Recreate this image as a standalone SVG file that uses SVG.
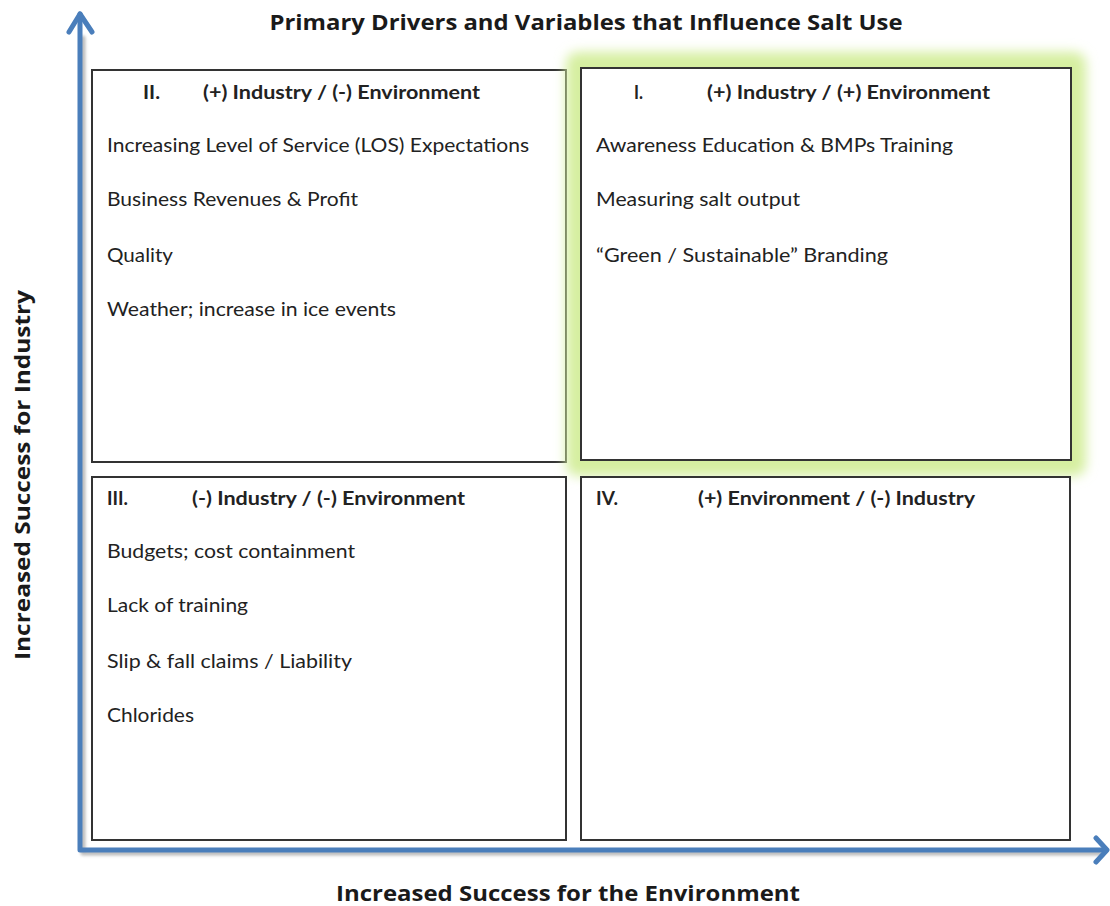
<svg xmlns="http://www.w3.org/2000/svg" width="1110" height="906" viewBox="0 0 1110 906">
<style>
.box{fill:#fff;stroke:#333;stroke-width:2}
.t{font-family:Lato,"Open Sans",sans-serif;font-size:19px;fill:#222}
.h{font-family:Lato,"Open Sans",sans-serif;font-size:19px;font-weight:bold;fill:#222}
.ax{font-family:"Open Sans",Lato,sans-serif;font-size:22px;font-weight:bold;fill:#1a1a1a}
.axis{fill:none;stroke:#4a7ebb;stroke-width:5;stroke-linecap:round;stroke-linejoin:round}
.shadow{fill:none;stroke:#bbb;stroke-width:5;stroke-linecap:round;stroke-linejoin:round}
</style>
<defs>
<filter id="glow" x="-10%" y="-10%" width="120%" height="120%">
<feGaussianBlur stdDeviation="6"/>
</filter>
<filter id="sh" x="-5%" y="-5%" width="110%" height="110%">
<feGaussianBlur stdDeviation="1.5"/>
</filter>
</defs>
<rect width="1110" height="906" fill="#fff"/>
<text class="ax" x="586" y="30" text-anchor="middle" textLength="633" lengthAdjust="spacingAndGlyphs">Primary Drivers and Variables that Influence Salt Use</text>
<g id="connectors">
<path class="shadow" filter="url(#sh)" d="M83 38 V853 H1100"/>
<path class="axis" d="M80 14 V850 H1106"/>
<path class="axis" d="M69 32 L80 14 L92 32"/>
<path class="axis" d="M1096 838 L1107 850 L1096 862"/>
</g>
<g id="quadrant-II">
<rect class="box" x="92" y="70" width="474" height="392"/>
<text class="h" x="143" y="99" textLength="17" lengthAdjust="spacingAndGlyphs">II.</text>
<text class="h" x="203" y="99" textLength="277" lengthAdjust="spacingAndGlyphs">(+) Industry / (-) Environment</text>
<text class="t" x="107" y="152" textLength="422" lengthAdjust="spacingAndGlyphs">Increasing Level of Service (LOS) Expectations</text>
<text class="t" x="107" y="206" textLength="251" lengthAdjust="spacingAndGlyphs">Business Revenues &amp; Profit</text>
<text class="t" x="107" y="262" textLength="66" lengthAdjust="spacingAndGlyphs">Quality</text>
<text class="t" x="107" y="316" textLength="289" lengthAdjust="spacingAndGlyphs">Weather; increase in ice events</text>
</g>
<g id="quadrant-I">
<rect x="566" y="52" width="520" height="424" rx="12" fill="#d6efa0" filter="url(#glow)"/>
<rect class="box" x="581" y="68" width="490" height="392"/>
<text class="h" x="634" y="99" textLength="9" lengthAdjust="spacingAndGlyphs">I.</text>
<text class="h" x="707" y="99" textLength="283" lengthAdjust="spacingAndGlyphs">(+) Industry / (+) Environment</text>
<text class="t" x="596" y="152" textLength="357" lengthAdjust="spacingAndGlyphs">Awareness Education &amp; BMPs Training</text>
<text class="t" x="596" y="206" textLength="204" lengthAdjust="spacingAndGlyphs">Measuring salt output</text>
<text class="t" x="596" y="262" textLength="292" lengthAdjust="spacingAndGlyphs">“Green / Sustainable” Branding</text>
</g>
<g id="quadrant-III">
<rect class="box" x="92" y="477" width="474" height="363"/>
<text class="h" x="107" y="505" textLength="21" lengthAdjust="spacingAndGlyphs">III.</text>
<text class="h" x="192" y="505" textLength="273" lengthAdjust="spacingAndGlyphs">(-) Industry / (-) Environment</text>
<text class="t" x="107" y="558" textLength="248" lengthAdjust="spacingAndGlyphs">Budgets; cost containment</text>
<text class="t" x="107" y="612" textLength="141" lengthAdjust="spacingAndGlyphs">Lack of training</text>
<text class="t" x="107" y="668" textLength="245" lengthAdjust="spacingAndGlyphs">Slip &amp; fall claims / Liability</text>
<text class="t" x="107" y="722" textLength="87" lengthAdjust="spacingAndGlyphs">Chlorides</text>
</g>
<g id="quadrant-IV">
<rect class="box" x="581" y="477" width="489" height="363"/>
<text class="h" x="596" y="505" textLength="22" lengthAdjust="spacingAndGlyphs">IV.</text>
<text class="h" x="698" y="505" textLength="277" lengthAdjust="spacingAndGlyphs">(+) Environment / (-) Industry</text>
</g>
<text class="ax" x="568" y="901" text-anchor="middle" textLength="464" lengthAdjust="spacingAndGlyphs">Increased Success for the Environment</text>
<text class="ax" transform="translate(30,475) rotate(-90)" text-anchor="middle" textLength="370" lengthAdjust="spacingAndGlyphs">Increased Success for Industry</text>
</svg>
